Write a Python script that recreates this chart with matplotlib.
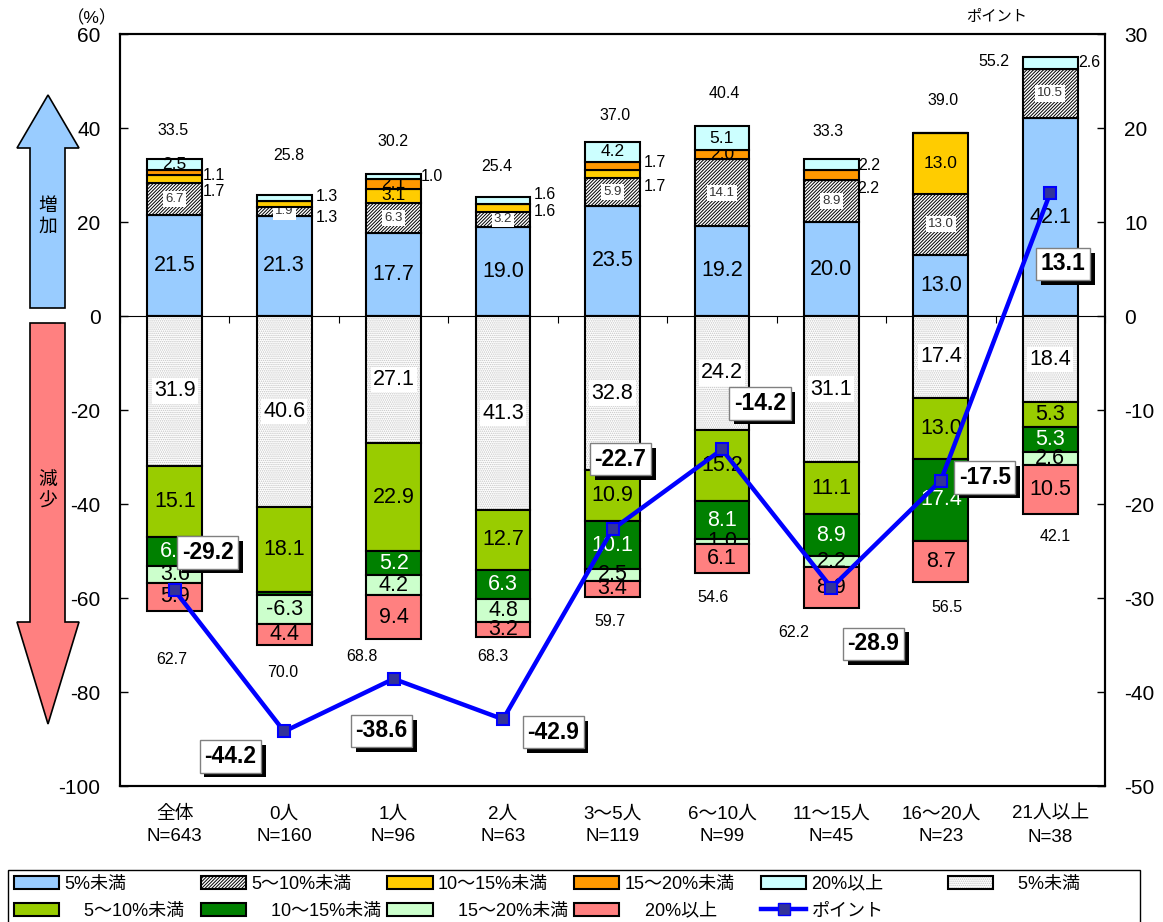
"""
従業員規模別 増減グラフ (積み上げ棒 + ポイント折れ線)
"""
import numpy as np
import matplotlib
matplotlib.use("Agg")
import matplotlib.pyplot as plt
import matplotlib.patheffects as pe
from matplotlib.colors import to_rgba
from matplotlib.lines import Line2D
from matplotlib.patches import Patch, Polygon
from matplotlib.ticker import NullFormatter

plt.rcParams["font.family"] = ["Liberation Sans", "Noto Sans CJK JP"]
plt.rcParams["hatch.linewidth"] = 0.7
plt.rcParams["axes.unicode_minus"] = False

W, H = 1163, 922

categories = ["全体\nN=643", "0人\nN=160", "1人\nN=96", "2人\nN=63", "3～5人\nN=119",
              "6～10人\nN=99", "11～15人\nN=45", "16～20人\nN=23", "21人以上\nN=38"]

# 増加
up_lt5 = [21.5, 21.3, 17.7, 19.0, 23.5, 19.2, 20.0, 13.0, 42.1]
up_5_10 = [6.7, 1.9, 6.3, 3.2, 5.9, 14.1, 8.9, 13.0, 10.5]
up_10_15 = [1.7, 1.3, 3.1, 1.6, 1.7, 0, 0, 13.0, 0]
up_15_20 = [1.1, 0, 2.1, 0, 1.7, 2.0, 2.2, 0, 0]
up_20 = [2.5, 1.3, 1.0, 1.6, 4.2, 5.1, 2.2, 0, 2.6]
up_total = [33.5, 25.8, 30.2, 25.4, 37.0, 40.4, 33.3, 39.0, 55.2]

# 減少
down_lt5 = [31.9, 40.6, 27.1, 41.3, 32.8, 24.2, 31.1, 17.4, 18.4]
down_5_10 = [15.1, 18.1, 22.9, 12.7, 10.9, 15.2, 11.1, 13.0, 5.3]
down_10_15 = [6.2, 0.6, 5.2, 6.3, 10.1, 8.1, 8.9, 17.4, 5.3]
down_15_20 = [3.6, 6.3, 4.2, 4.8, 2.5, 1.0, 2.2, 0, 2.6]
down_20 = [5.9, 4.4, 9.4, 3.2, 3.4, 6.1, 8.9, 8.7, 10.5]
down_total = [62.7, 70.0, 68.8, 68.3, 59.7, 54.6, 62.2, 56.5, 42.1]

points = [-29.2, -44.2, -38.6, -42.9, -22.7, -14.2, -28.9, -17.5, 13.1]

BLUE, YELLOW, ORANGE, CYAN = "#99CCFF", "#FFCC00", "#FF9900", "#CCFFFF"
GREEN, DGREEN, PGREEN, PINK = "#99CC00", "#008000", "#CCFFCC", "#FF8080"
DIAG = "//////////"
DOTS = "........"

# (values, color, hatch, label size, label color, white box behind label)
up_series = [
    (up_lt5, BLUE, None, 15.5, "black", False),
    (up_5_10, "white", DIAG, 9.5, "#333333", True),
    (up_10_15, YELLOW, None, 12.5, "black", False),
    (up_15_20, ORANGE, None, 12.5, "black", False),
    (up_20, CYAN, None, 12.5, "black", False),
]
down_series = [
    (down_lt5, "white", DOTS, 15.5, "black", True),
    (down_5_10, GREEN, None, 15.5, "black", False),
    (down_10_15, DGREEN, None, 15.5, "white", False),
    (down_15_20, PGREEN, None, 15.5, "black", False),
    (down_20, PINK, None, 15.5, "black", False),
]

# ラベルの位置調整 (series, category): (dx, dy) [pixel]
up_shift = {
    (3, 0): (39, -3), (2, 0): (39, -12),
    (4, 1): (43, 1), (2, 1): (43, -14),
    (4, 2): (38, 0),
    (4, 3): (42, 6), (2, 3): (42, -4),
    (3, 4): (42, 3), (2, 4): (42, -13),
    (4, 6): (38, -1), (3, 6): (37, -13),
    (4, 8): (39, 0),
}
down_text = {(3, 1): "-6.3"}
down_skip = {(2, 1)}

up_total_shift = [(-2, 28), (5, 39), (-1, 33), (-6, 30), (3, 27), (2, 33), (-3, 28), (2, 32), (-56, -5)]
down_total_shift = [(-3, -49), (-1, -27), (-32, -17), (-10, -19), (-3, -25), (-9, -25), (-38, -24), (6, -26), (5, -23)]
point_label_shift = [(33, 38), (-54, -25), (-12, -52), (50, -13), (8, 70), (38, 46), (42, -56), (44, 3), (13, -71)]


def px(x, y):
    return x / W, 1 - y / H


def set_dots(patch):
    # 点パターンだけ薄い灰色にする
    patch._hatch_color = to_rgba("#c4c4c4")


fig = plt.figure(figsize=(W / 100, H / 100), dpi=100)
ax = fig.add_axes([120 / W, 1 - 786 / H, 985 / W, 752 / H])
x = np.arange(len(categories))
bar_w = 0.5


def draw_stack(series, sign, shift, text_over=None, skip=None):
    bottom = np.zeros(len(x))
    text_over = text_over or {}
    skip = skip or set()
    for k, (vals, color, hatch, size, tcolor, boxed) in enumerate(series):
        v = sign * np.array(vals, dtype=float)
        z = 2 + k
        bars = ax.bar(x, v, bar_w, bottom=bottom, color=color, edgecolor="black",
                      linewidth=1.5, zorder=z, hatch=hatch)
        if hatch == DOTS:
            for b in bars:
                set_dots(b)
        for i, val in enumerate(vals):
            if val == 0 or (k, i) in skip:
                continue
            dx, dy = shift.get((k, i), (0, 0))
            outside = (k, i) in shift
            t = ax.annotate(text_over.get((k, i), f"{val:.1f}"),
                            xy=(i, bottom[i] + v[i] / 2), xytext=(dx, dy),
                            textcoords="offset pixels", ha="center", va="center",
                            fontsize=11.5 if outside else size,
                            color="black" if outside else tcolor,
                            zorder=20 if outside else z + 0.5)
            if boxed:
                t.set_bbox(dict(facecolor="white", edgecolor="none", pad=1.5))
        bottom = bottom + v
    return bottom


draw_stack(up_series, 1, up_shift)
draw_stack(down_series, -1, {}, down_text, down_skip)

for i, (v, (dx, dy)) in enumerate(zip(up_total, up_total_shift)):
    ax.annotate(f"{v:.1f}", xy=(i, v), xytext=(dx, dy), textcoords="offset pixels",
                ha="center", va="center", fontsize=11.5, zorder=20)
for i, (v, (dx, dy)) in enumerate(zip(down_total, down_total_shift)):
    ax.annotate(f"{v:.1f}", xy=(i, -v), xytext=(dx, dy), textcoords="offset pixels",
                ha="center", va="center", fontsize=11.5, zorder=20)

ax.set_xlim(-0.5, len(categories) - 0.5)
ax.set_ylim(-100, 60)
ax.set_yticks(np.arange(-100, 61, 20))
ax.set_xticks(x)
ax.set_xticklabels(categories, fontsize=13.5, linespacing=1.45)
ax.tick_params(axis="x", length=0, pad=14)
ax.tick_params(axis="y", direction="in", length=6, width=1, pad=14, labelsize=15)
for s in ax.spines.values():
    s.set_linewidth(1.5)

# ゼロの線と区切り目盛
zero = ax.secondary_xaxis(100 / 160)
zero.set_xticks(np.arange(-0.5, len(categories) - 0.4, 1))
zero.xaxis.set_major_formatter(NullFormatter())
zero.tick_params(direction="in", length=5, width=0.8)
zero.spines["bottom"].set_linewidth(0.8)

# ポイント折れ線 (右軸)
ax2 = ax.twinx()
ax2.set_ylim(-50, 30)
ax2.set_yticks(np.arange(-50, 31, 10))
ax2.tick_params(axis="y", direction="in", length=6, width=1, pad=14, labelsize=15)
for s in ax2.spines.values():
    s.set_linewidth(1.5)
ax2.plot(x, points, color="#0000FF", linewidth=3.2, marker="s", markersize=9,
         markerfacecolor="#333399", markeredgecolor="#0000FF", markeredgewidth=1.5)

for i, (v, (dx, dy)) in enumerate(zip(points, point_label_shift)):
    t = ax2.annotate(f"{v:.1f}", xy=(i, v), xytext=(dx, dy), textcoords="offset pixels",
                     ha="center", va="center", fontsize=16.5, fontweight="bold", zorder=10,
                     bbox=dict(boxstyle="square,pad=0.2", facecolor="white", edgecolor="#808080", linewidth=1))
    t.get_bbox_patch().set_path_effects(
        [pe.withSimplePatchShadow(offset=(3.5, -3.5), shadow_rgbFace="black", alpha=1)])

# 軸の単位
fig.text(*px(92, 18), "（%）", ha="center", va="center", fontsize=12.5)
fig.text(*px(997, 17), "ポイント", ha="center", va="center", fontsize=11)

# 増加・減少の矢印
up_arrow = [(30, 308), (65, 308), (65, 148), (79, 148), (48, 95), (17, 148), (30, 148)]
down_arrow = [(30, 323), (65, 323), (65, 622), (79, 622), (48, 724), (17, 622), (30, 622)]
for pts, color in [(up_arrow, BLUE), (down_arrow, PINK)]:
    fig.add_artist(Polygon([px(*p) for p in pts], closed=True, facecolor=color,
                           edgecolor="black", linewidth=1.2, transform=fig.transFigure))
fig.text(*px(48, 217), "増\n加", ha="center", va="center", fontsize=13.5, linespacing=1.25)
fig.text(*px(48, 491), "減\n少", ha="center", va="center", fontsize=13.5, linespacing=1.35)

# 凡例
dot_handle = Patch(facecolor="white", edgecolor="black", hatch=DOTS, linewidth=1.5)
set_dots(dot_handle)


def box(color, hatch=None):
    return Patch(facecolor=color, edgecolor="black", hatch=hatch, linewidth=1.5)


handles = [
    box(BLUE), box(GREEN),
    box("white", DIAG), box(DGREEN),
    box(YELLOW), box(PGREEN),
    box(ORANGE), box(PINK),
    box(CYAN),
    Line2D([], [], color="#0000FF", linewidth=3.2, marker="s", markersize=9,
           markerfacecolor="#333399", markeredgecolor="#0000FF"),
    dot_handle,
]
labels = [
    "5%未満", "    5～10%未満",
    "5～10%未満", "    10～15%未満",
    "10～15%未満", "    15～20%未満",
    "15～20%未満", "    20%以上",
    "20%以上", "ポイント",
    "    5%未満",
]
leg = ax2.legend(handles, labels, ncol=6, loc="upper left", fontsize=13,
                 bbox_to_anchor=px(8, 870), bbox_transform=fig.transFigure,
                 borderaxespad=0, borderpad=0.32, labelspacing=0.55,
                 handlelength=2.5, handleheight=0.75, handletextpad=0.3,
                 columnspacing=0.34, fancybox=False, framealpha=1, edgecolor="black")
leg.get_frame().set_linewidth(1)
leg._legend_handle_box.mode = "equal"

fig.savefig("out.png", dpi=100)
